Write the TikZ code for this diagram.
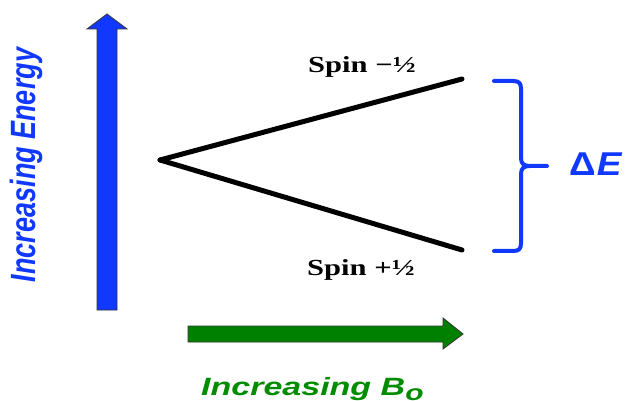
\documentclass[tikz,border=0pt]{standalone}
\usepackage{fontspec}
\setmainfont{Liberation Serif}
\newfontfamily\labfont{Liberation Sans}
\definecolor{eblue}{RGB}{16,56,255}
\definecolor{bgreen}{RGB}{0,128,0}
\definecolor{tgreen}{RGB}{0,140,0}
\begin{document}
\begin{tikzpicture}[x=1pt,y=-1pt,
  arrowshape/.style={draw=black!80,line width=0.8pt,line join=miter},
  splitline/.style={line width=5pt,black,line cap=round},
  spinlab/.style={font=\fontsize{23}{23}\selectfont\bfseries,inner sep=0pt},
  sidelab/.style={font=\labfont\fontsize{27}{27}\selectfont\bfseries\itshape,inner sep=0pt}]
\path[use as bounding box,fill=white] (0,0) rectangle (630,401);
% blue energy arrow
\draw[arrowshape,fill=eblue] (97,310) -- (97,29) -- (87,29) -- (107,14) -- (127,29) -- (117,29) -- (117,310) -- cycle;
% green field arrow
\draw[arrowshape,fill=bgreen] (188,326) -- (443,326) -- (443,318) -- (463,334) -- (443,349) -- (443,342) -- (188,342) -- cycle;
% labels
\node[sidelab,text=eblue,rotate=90] (energy) at (26,165) {\scalebox{1}[1.3]{Increasing Energy}};
\node[sidelab,text=tgreen,anchor=base west,font=\labfont\fontsize{25}{25}\selectfont\bfseries\itshape] (field) at (201,395) {\scalebox{1.36}[1]{Increasing B\raisebox{-5pt}{\fontsize{22}{22}\selectfont o}}};
% splitting lines
\coordinate (v) at (160,160);
\coordinate (up) at (462,79);
\coordinate (lo) at (462,250);
\draw[splitline] (v) -- (up);
\draw[splitline] (v) -- (lo);
\node[spinlab,anchor=base] (sminus) at (362,73) {\scalebox{1.33}[1]{Spin \textminus½}};
\node[spinlab,anchor=base] (splus) at (361,276) {\scalebox{1.33}[1]{Spin +½}};
% bracket
\draw[eblue,line width=4pt,line cap=round,line join=round]
  (494,81) -- (513,81) .. controls (519,81) and (521,83) .. (521,89)
  -- (521,158) .. controls (521,164) and (524,166) .. (530,166) -- (547,166);
\draw[eblue,line width=4pt,line cap=round,line join=round]
  (494,251) -- (513,251) .. controls (519,251) and (521,249) .. (521,243)
  -- (521,174) .. controls (521,168) and (524,166) .. (530,166);
\node[sidelab,text=eblue,anchor=base west,font=\labfont\fontsize{33}{33}\selectfont\bfseries\itshape] (de) at (569,176) {\scalebox{1.12}[1]{{\upshape Δ}\kern1pt E}};
\end{tikzpicture}
\end{document}
